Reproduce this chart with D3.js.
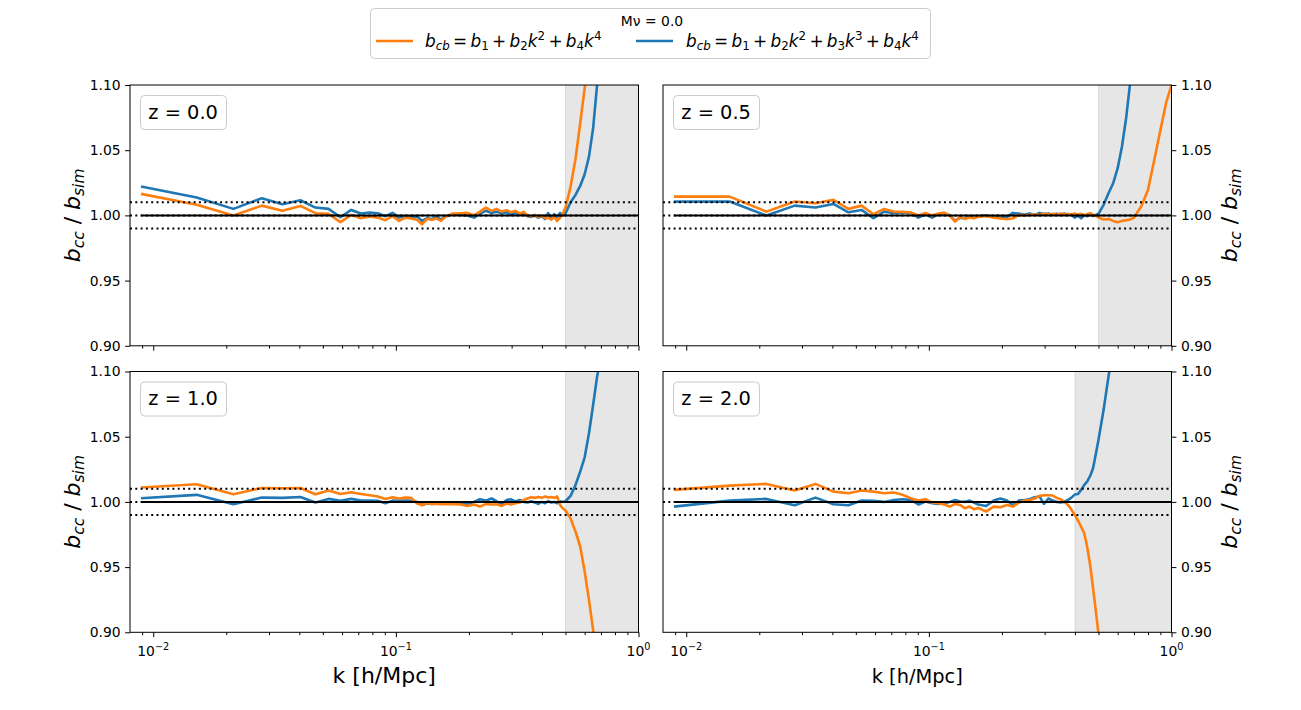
<!DOCTYPE html>
<html><head><meta charset="utf-8">
<script src="https://cdn.jsdelivr.net/npm/d3@7"></script>
<style>
body{margin:0;background:#fff}
svg{display:block}
text{font-family:"DejaVu Sans",sans-serif;white-space:pre;fill:#000}
</style>
</head><body>
<svg id="c" width="1301" height="710"></svg>
<script>
// ---------------- DATA ----------------
const kValues = [0.0089,0.0151,0.0214,0.0280,0.0341,0.0404,0.0466,0.0528,0.0591,0.0654,0.0717,0.0780,0.0843,0.0905,0.0968,0.1031,0.1094,0.1157,0.1220,0.1282,0.1345,0.1408,0.1471,0.1534,0.1597,
  0.172,0.185,0.197,0.210,0.222,0.235,0.248,0.260,0.273,0.286,0.298,0.311,0.324,0.336,0.349,0.361,0.374,0.386,0.399,0.412,0.424,0.437,0.449,0.462,0.475,0.487,0.500,
  0.525,0.55,0.575,0.60,0.625,0.65,0.675,0.70,0.75,0.80,0.85,0.90,0.95,1.00];

const redshiftLabels = ["z = 0.0","z = 0.5","z = 1.0","z = 2.0"];
const kCutoff = [0.5,0.5,0.5,0.4];

// orange: b_cb = b1 + b2 k^2 + b4 k^4
const orange_z00 = [1.0165,1.0081,0.9999,1.0075,1.0035,1.0073,1.0017,1.0012,0.9948,1.0004,0.9978,0.9991,0.9983,0.9963,0.9994,0.9958,0.9983,0.9976,0.9966,0.9932,0.9973,0.9966,0.9976,0.9958,0.9989,
  1.0014,1.0017,1.0019,1.0001,1.0029,1.0060,1.0035,1.0050,1.0029,1.0040,1.0024,1.0035,1.0014,1.0027,0.9999,0.9994,1.0004,0.9989,0.9999,0.9978,0.9983,0.9968,0.9989,0.9958,0.9983,1.0010,1.0060,
  1.0221,1.0433,1.0706,1.0974,1.1230,null,null,null,null,null,null,null,null,null];
const orange_z05 = [1.0144,1.0144,1.0029,1.0106,1.0093,1.0119,1.0050,1.0075,1.0009,1.0050,1.0029,1.0027,1.0022,0.9999,1.0019,0.9999,1.0014,1.0022,0.9999,0.9953,0.9989,0.9973,0.9983,0.9978,0.9989,
  0.9996,0.9983,0.9976,0.9971,0.9978,1.0004,0.9999,1.0004,1.0009,1.0001,1.0014,1.0006,1.0012,1.0004,1.0014,1.0006,1.0012,1.0004,1.0014,1.0006,1.0012,1.0001,1.0009,1.0017,1.0004,0.9996,0.9986,
  0.9968,0.9973,0.9958,0.9948,0.9958,0.9963,0.9968,0.9983,1.0068,1.0195,1.0428,1.0653,1.0862,1.1000];
const orange_z10 = [1.0110,1.0135,1.0059,1.0107,1.0105,1.0107,1.0059,1.0087,1.0061,1.0074,1.0061,1.0051,1.0041,1.0023,1.0036,1.0026,1.0033,1.0031,0.9990,0.9974,0.9990,0.9985,0.9987,0.9982,0.9985,
  0.9982,0.9980,0.9969,0.9980,0.9964,0.9985,0.9980,0.9982,0.9969,0.9987,0.9980,0.9990,0.9995,1.0015,1.0026,1.0036,1.0031,1.0038,1.0031,1.0041,1.0033,1.0038,1.0031,1.0041,0.9977,0.9951,0.9934,
  0.9872,0.9773,0.9658,0.9466,0.9249,0.9019,0.8790,null,null,null,null,null,null,null];
const orange_z20 = [1.0092,1.0125,1.0138,1.0087,1.0138,1.0079,1.0066,1.0087,1.0079,1.0066,1.0072,1.0054,1.0028,1.0010,1.0020,0.9995,0.9990,0.9980,0.9964,0.9985,0.9977,0.9951,0.9964,0.9944,0.9954,
  0.9926,0.9964,0.9959,0.9977,0.9964,0.9995,1.0010,1.0015,1.0026,1.0046,1.0051,1.0051,1.0049,1.0031,1.0020,1.0003,0.9977,0.9944,0.9900,0.9857,0.9811,0.9760,0.9658,0.9518,0.9339,0.9172,0.8994,
  0.8700,null,null,null,null,null,null,null,null,null,null,null,null,null];

// blue: b_cb = b1 + b2 k^2 + b3 k^3 + b4 k^4
const blue_z00 = [1.0221,1.0137,1.0050,1.0132,1.0086,1.0116,1.0060,1.0050,0.9986,1.0042,1.0014,1.0022,1.0017,0.9994,1.0019,0.9983,0.9996,0.9989,0.9991,0.9958,0.9978,0.9973,0.9989,0.9968,0.9991,
  1.0009,1.0004,0.9999,0.9983,1.0014,1.0035,1.0019,1.0029,1.0014,1.0024,1.0009,1.0019,1.0004,1.0014,0.9994,0.9989,0.9999,0.9983,0.9994,0.9973,1.0017,0.9978,1.0009,0.9989,1.0019,0.9999,1.0014,
  1.0101,1.0157,1.0226,1.0316,1.0451,1.0668,1.1000,1.1255,null,null,null,null,null,null];
const blue_z05 = [1.0106,1.0106,0.9999,1.0075,1.0060,1.0088,1.0024,1.0042,0.9978,1.0029,1.0019,1.0022,1.0017,0.9983,1.0009,0.9983,1.0009,1.0017,0.9999,0.9958,0.9983,0.9978,0.9989,0.9981,0.9994,
  0.9999,0.9989,0.9983,0.9989,1.0019,1.0014,1.0004,1.0014,1.0004,1.0019,1.0009,1.0014,1.0004,1.0012,1.0004,1.0014,1.0004,1.0009,0.9983,0.9999,0.9978,0.9999,0.9994,1.0004,0.9996,1.0004,1.0012,
  1.0081,1.0170,1.0247,1.0362,1.0528,1.0745,1.1013,1.1255,null,null,null,null,null,null];
const blue_z10 = [1.0028,1.0054,0.9982,1.0033,1.0031,1.0038,0.9995,1.0023,1.0008,1.0023,1.0010,1.0010,1.0008,0.9990,1.0010,1.0008,1.0010,1.0008,1.0000,0.9977,0.9990,0.9985,0.9992,0.9987,0.9990,
  0.9995,0.9990,0.9985,1.0000,1.0020,1.0010,1.0026,1.0005,0.9980,1.0015,1.0020,1.0003,1.0015,1.0000,0.9995,1.0005,0.9995,0.9985,1.0000,0.9990,1.0005,0.9995,1.0000,0.9990,1.0005,1.0000,1.0005,
  1.0046,1.0130,1.0232,1.0342,1.0526,1.0743,1.0960,1.1113,null,null,null,null,null,null];
const blue_z20 = [0.9964,1.0010,1.0023,0.9974,1.0033,0.9982,0.9974,1.0010,1.0008,1.0000,1.0015,1.0020,1.0015,0.9980,1.0003,0.9990,0.9985,0.9990,1.0000,1.0015,1.0003,1.0000,1.0010,0.9995,0.9980,
  0.9969,1.0010,1.0026,1.0010,0.9974,1.0010,1.0015,1.0020,1.0036,1.0041,0.9985,1.0026,1.0010,1.0000,0.9995,1.0000,1.0015,1.0031,1.0056,1.0061,1.0092,1.0130,1.0156,1.0199,1.0258,1.0361,1.0475,
  1.0706,1.0962,1.1200,null,null,null,null,null,null,null,null,null,null,null];

const orangeSeries = [orange_z00, orange_z05, orange_z10, orange_z20];
const blueSeries = [blue_z00, blue_z05, blue_z10, blue_z20];

const yTickValues = [0.90,0.95,1.00,1.05,1.10];
const xMajorTicks = [0.01,0.1,1];
const xMajorLabels = [["10","\u22122"],["10","\u22121"],["10","0"]];
const xMinorTicks = [0.009,0.02,0.03,0.04,0.05,0.06,0.07,0.08,0.09,0.2,0.3,0.4,0.5,0.6,0.7,0.8,0.9];
const refLines = [0.99,1.01];
const legendTitle = "M\u03bd = 0.0";
const xLabel = "k [h/Mpc]";

const ORANGE = "#ff7f0e", BLUE = "#1f77b4";

// ---------------- HELPERS ----------------
const svg = d3.select("#c");
// parts: [string, style, pos]; style "i" italic, "r" roman, "op" operator (padded)
function rich(t, parts, size){
  let cur = 0, pendingDx = 0;
  const pad = 0.195 * size;
  parts.forEach(([s, st, pos]) => {
    const target = pos === 1 ? -0.40*size : pos === -1 ? 0.20*size : 0;
    let dx = pendingDx; pendingDx = 0;
    if (st === "op") { dx += pad; pendingDx = pad; }
    const sp = t.append("tspan").text(s)
      .attr("font-style", st === "i" ? "italic" : "normal")
      .attr("font-size", pos ? size*0.7 : size)
      .attr("dy", target - cur);
    if (dx) sp.attr("dx", dx);
    cur = target;
  });
}
const ylabParts = [["b","i",0],["cc","i",-1],[" / ","r",0],["b","i",0],["sim","i",-1]];

// ---------------- LAYOUT ----------------
const kMin = 0.00802, kMax = 1.0;
const colX = [130, 663], pw = 508.5;
const rowY = [85, 371.5], ph = 260.8;

for (let p = 0; p < 4; p++) {
  const col = p % 2, row = Math.floor(p / 2);
  const x0 = colX[col], y0 = rowY[row];
  const x = d3.scaleLog().domain([kMin, kMax]).range([x0, x0 + pw]);
  const y = d3.scaleLinear().domain([0.90, 1.10]).range([y0 + ph, y0]);
  const g = svg.append("g");
  const cid = "clip" + p;
  g.append("clipPath").attr("id", cid).append("rect")
    .attr("x", x0).attr("y", y0).attr("width", pw).attr("height", ph);
  const inner = g.append("g").attr("clip-path", `url(#${cid})`);

  // shaded region
  inner.append("rect")
    .attr("x", x(kCutoff[p])).attr("y", y(1.10))
    .attr("width", x(kMax) - x(kCutoff[p])).attr("height", y(0.90) - y(1.10))
    .attr("fill", "#808080").attr("fill-opacity", 0.2)
    .attr("stroke", "#808080").attr("stroke-opacity", 0.2).attr("stroke-width", 1);

  const line = d3.line().defined(d => d[1] !== null).x(d => x(d[0])).y(d => y(d[1]));
  const bd = kValues.map((k, i) => [k, blueSeries[p][i]]);
  const od = kValues.map((k, i) => [k, orangeSeries[p][i]]);
  inner.append("path").attr("d", line(bd)).attr("fill", "none")
    .attr("stroke", BLUE).attr("stroke-width", 2.6).attr("stroke-linejoin", "round");
  inner.append("path").attr("d", line(od)).attr("fill", "none")
    .attr("stroke", ORANGE).attr("stroke-width", 2.6).attr("stroke-linejoin", "round");

  // reference lines
  [...refLines, 1.0].forEach(v => {
    inner.append("line").attr("x1", x(kMin)).attr("x2", x(kMax))
      .attr("y1", y(v)).attr("y2", y(v))
      .attr("stroke", "#000").attr("stroke-width", 2).attr("stroke-dasharray", "2,3.3");
  });
  inner.append("line").attr("x1", x(kValues[0])).attr("x2", x(kMax))
    .attr("y1", y(1.0)).attr("y2", y(1.0)).attr("stroke", "#000").attr("stroke-width", 2);

  // spines
  g.append("rect").attr("x", x0).attr("y", y0).attr("width", pw).attr("height", ph)
    .attr("fill", "none").attr("stroke", "#000").attr("stroke-width", 1);

  // x ticks
  const xa = g.append("g").attr("transform", `translate(0,${y0 + ph})`)
    .call(d3.axisBottom(x).tickValues(xMajorTicks).tickSize(4.9).tickFormat(""));
  const xm = g.append("g").attr("transform", `translate(0,${y0 + ph})`)
    .call(d3.axisBottom(x).tickValues(xMinorTicks).tickSize(2.8).tickFormat(""));
  [xa, xm].forEach(a => { a.select(".domain").remove(); a.selectAll("line").attr("stroke", "#000").attr("stroke-width", 1); });

  if (row === 1) {
    xMajorTicks.forEach((t, i) => {
      const tx = g.append("text").attr("x", x(t)).attr("y", y0 + ph + 24)
        .attr("text-anchor", "middle").attr("font-size", 13.9);
      tx.append("tspan").text(xMajorLabels[i][0]);
      tx.append("tspan").text(xMajorLabels[i][1]).attr("font-size", 9.7).attr("dy", -6);
    });
    g.append("text").attr("x", x0 + pw / 2).attr("y", y0 + ph + 51)
      .attr("text-anchor", "middle").attr("font-size", col === 0 ? 22 : 19.4).text(xLabel);
  }

  // y ticks
  const ya = g.append("g")
    .attr("transform", `translate(${col === 0 ? x0 : x0 + pw},0)`)
    .call((col === 0 ? d3.axisLeft(y) : d3.axisRight(y)).tickValues(yTickValues)
      .tickSize(4.9).tickPadding(4.5).tickFormat(d3.format(".2f")));
  ya.select(".domain").remove();
  ya.selectAll("line").attr("stroke", "#000").attr("stroke-width", 1);
  ya.selectAll("text").attr("font-size", 13.9).attr("font-family", "DejaVu Sans").attr("fill", "#000");

  // y label
  const lx = col === 0 ? 80 : 1236.5, ly = y0 + ph / 2;
  const yl = g.append("text").attr("transform", `translate(${lx},${ly}) rotate(-90)`)
    .attr("text-anchor", "middle");
  rich(yl, ylabParts, 22);

  // panel legend
  const lg = g.append("g");
  lg.append("rect").attr("x", x0 + 10.5).attr("y", y0 + 10.5).attr("width", 86).attr("height", 34)
    .attr("rx", 4).attr("fill", "#fff").attr("fill-opacity", 0.8)
    .attr("stroke", "#cccccc").attr("stroke-width", 1);
  lg.append("text").attr("x", x0 + 18.3).attr("y", y0 + 33.5).attr("font-size", 19.4).text(redshiftLabels[p]);
}

// ---------------- TOP LEGEND ----------------
const L = svg.append("g");
L.append("rect").attr("x", 370.5).attr("y", 8.5).attr("width", 560).attr("height", 50)
  .attr("rx", 4).attr("fill", "#fff").attr("stroke", "#cccccc").attr("stroke-width", 1);
L.append("text").attr("x", 652).attr("y", 26).attr("text-anchor", "middle")
  .attr("font-size", 13.9).text(legendTitle);
L.append("line").attr("x1", 376).attr("x2", 413).attr("y1", 41).attr("y2", 41)
  .attr("stroke", ORANGE).attr("stroke-width", 2.6);
L.append("line").attr("x1", 636).attr("x2", 673).attr("y1", 41).attr("y2", 41)
  .attr("stroke", BLUE).attr("stroke-width", 2.6);
const t1 = L.append("text").attr("x", 425).attr("y", 47);
rich(t1, [["b","i",0],["cb","i",-1],["=","op",0],["b","i",0],["1","r",-1],["+","op",0],["b","i",0],["2","r",-1],["k","i",0],["2","r",1],["+","op",0],["b","i",0],["4","r",-1],["k","i",0],["4","r",1]], 16.9);
const t2 = L.append("text").attr("x", 686).attr("y", 47);
rich(t2, [["b","i",0],["cb","i",-1],["=","op",0],["b","i",0],["1","r",-1],["+","op",0],["b","i",0],["2","r",-1],["k","i",0],["2","r",1],["+","op",0],["b","i",0],["3","r",-1],["k","i",0],["3","r",1],["+","op",0],["b","i",0],["4","r",-1],["k","i",0],["4","r",1]], 16.9);
</script>
</body></html>
